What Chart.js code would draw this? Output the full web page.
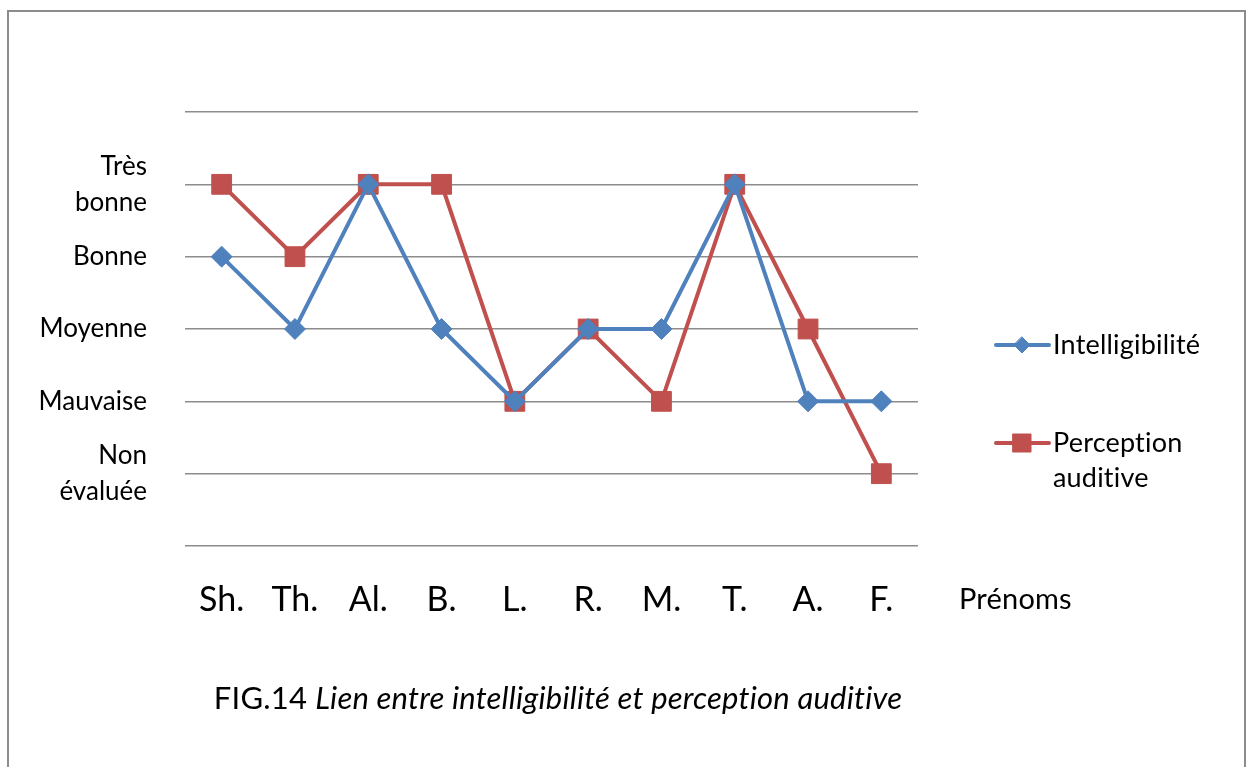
<!DOCTYPE html>
<html>
<head>
<meta charset="utf-8">
<script src="https://cdn.jsdelivr.net/npm/chart.js@4.4.1/dist/chart.umd.min.js"></script>
<style>
  html, body { margin: 0; padding: 0; background: #ffffff; }
  #wrap { width: 1252px; height: 767px; position: relative; }
</style>
</head>
<body>
<div id="wrap"><canvas id="chart" width="1252" height="767"></canvas></div>
<script>
// Children (first names) and their ratings, 1 = Non évaluée ... 5 = Très bonne
const categories = ['Sh.', 'Th.', 'Al.', 'B.', 'L.', 'R.', 'M.', 'T.', 'A.', 'F.'];
const intelligibilite = [4, 3, 5, 3, 2, 3, 3, 5, 2, 2];
const perceptionAuditive = [5, 4, 5, 5, 2, 3, 2, 5, 3, 1];
const levelLabels = ['', ['Non', 'évaluée'], 'Mauvaise', 'Moyenne', 'Bonne', ['Très', 'bonne'], ''];
const seriesNames = ['Intelligibilité', ['Perception', 'auditive']];
const axisTitle = 'Prénoms';
const captionLead = 'FIG.14 ';
const captionText = 'Lien entre intelligibilité et perception auditive';

const BLUE = '#4F81BD';
const RED = '#C0504D';
const FONT = 'Lato, "Open Sans", sans-serif';

// Frame, x-axis title, legend and caption
const decorations = {
  id: 'decorations',
  afterDraw(chart) {
    const ctx = chart.ctx;
    ctx.save();
    // a hair of tracking keeps "ti" from turning into a ligature
    ctx.letterSpacing = '0.2px';

    // outer frame
    ctx.strokeStyle = '#8c8c8c';
    ctx.lineWidth = 2;
    ctx.strokeRect(8, 11, 1237, 800);

    // x-axis title beside the tick labels
    ctx.fillStyle = '#000';
    ctx.font = '29px ' + FONT;
    ctx.textAlign = 'left';
    ctx.textBaseline = 'middle';
    ctx.fillText(axisTitle, 959, 600);

    // legend built from the datasets' own styles
    const rows = [345, 443];
    chart.data.datasets.forEach((ds, i) => {
      const y = rows[i];
      ctx.strokeStyle = ds.borderColor;
      ctx.lineWidth = 4;
      ctx.lineCap = 'round';
      ctx.beginPath();
      ctx.moveTo(996, y);
      ctx.lineTo(1049, y);
      ctx.stroke();
      ctx.fillStyle = ds.backgroundColor;
      ctx.strokeStyle = ds.borderColor;
      ctx.lineWidth = 1;
      ctx.beginPath();
      if (ds.pointStyle === 'rect') {
        ctx.rect(1013, y - 9, 18, 18);
      } else {
        ctx.moveTo(1022, y - 8); ctx.lineTo(1030, y); ctx.lineTo(1022, y + 8); ctx.lineTo(1014, y);
        ctx.closePath();
      }
      ctx.fill();
      ctx.stroke();
      ctx.fillStyle = '#000';
      ctx.font = '27px ' + FONT;
      ctx.textAlign = 'left';
      ctx.textBaseline = 'middle';
      const lines = Array.isArray(ds.label) ? ds.label : [ds.label];
      lines.forEach((t, k) => ctx.fillText(t, 1053, y + k * 35));
    });

    // caption
    ctx.fillStyle = '#000';
    ctx.textBaseline = 'alphabetic';
    ctx.font = '31px ' + FONT;
    const w1 = ctx.measureText(captionLead).width;
    ctx.font = 'italic 31px ' + FONT;
    const w2 = ctx.measureText(captionText).width;
    const x0 = 558 - (w1 + w2) / 2;
    ctx.textAlign = 'left';
    ctx.font = '31px ' + FONT;
    ctx.fillText(captionLead, x0, 709);
    ctx.font = 'italic 31px ' + FONT;
    ctx.fillText(captionText, x0 + w1, 709);
    ctx.restore();
  }
};

new Chart(document.getElementById('chart'), {
  type: 'line',
  data: {
    labels: categories,
    datasets: [
      {
        label: seriesNames[0],
        data: intelligibilite,
        borderColor: BLUE,
        backgroundColor: BLUE,
        borderWidth: 4,
        pointStyle: 'rectRot',
        pointRadius: 10.5,
        pointHoverRadius: 10.5,
        pointBorderWidth: 1,
        tension: 0
      },
      {
        label: seriesNames[1],
        data: perceptionAuditive,
        borderColor: RED,
        backgroundColor: RED,
        borderWidth: 4,
        pointStyle: 'rect',
        pointRadius: 14,
        pointHoverRadius: 14,
        pointBorderWidth: 1,
        tension: 0
      }
    ]
  },
  options: {
    responsive: false,
    animation: false,
    events: [],
    layout: { padding: { left: 0, right: 334, top: 112, bottom: 141 } },
    plugins: {
      legend: { display: false },
      tooltip: { enabled: false }
    },
    scales: {
      x: {
        offset: true,
        grid: { display: false, drawTicks: false, tickLength: 0 },
        border: { display: false },
        ticks: {
          color: '#000',
          font: { family: FONT, size: 34 },
          padding: 34,
          maxRotation: 0,
          autoSkip: false
        },
        afterFit(scale) { scale.height = 80; }
      },
      y: {
        min: 0,
        max: 6,
        grid: { color: '#8c8c8c', lineWidth: 1.6, drawTicks: false, tickLength: 0 },
        border: { display: false },
        ticks: {
          stepSize: 1,
          autoSkip: false,
          color: '#000',
          font: { family: FONT, size: 26, lineHeight: 1.4 },
          padding: 38,
          callback: (v) => levelLabels[v]
        },
        afterFit(scale) { scale.width = 185; }
      }
    }
  },
  plugins: [decorations]
});
</script>
</body>
</html>
